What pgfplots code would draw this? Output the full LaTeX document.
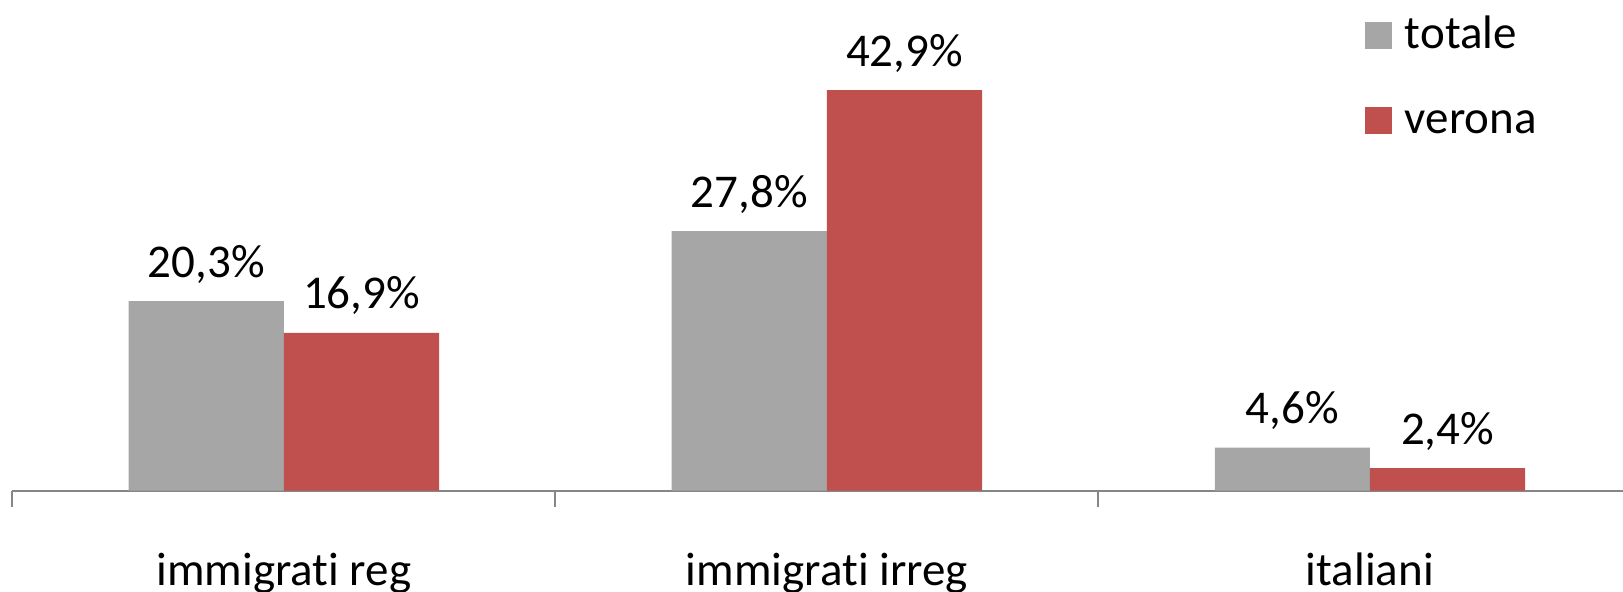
\documentclass[border=0pt]{standalone}
\usepackage{pgfplots}
\pgfplotsset{compat=1.18}
\usepackage{fontspec}
\setmainfont{Carlito}[Ligatures={NoCommon}]
\definecolor{gr}{HTML}{A6A6A6}
\definecolor{rd}{HTML}{C0504D}
\definecolor{axc}{HTML}{868686}
\begin{document}
\begin{tikzpicture}
\useasboundingbox (0,0) rectangle (811.5pt,296pt);
\begin{axis}[
  at={(6.2pt,50.7pt)}, anchor=south west,
  scale only axis, width=805.3pt, height=245.3pt,
  xmin=-0.5, xmax=2.466, ymin=0, ymax=52.55,
  ybar=0pt, bar width=77.6pt,
  axis y line=none, axis x line*=bottom,
  x axis line style={draw=axc, line width=1pt, -},
  xtick={0,1,2},
  xticklabels={immigrati reg, immigrati irreg, italiani},
  major x tick style={draw=none},
  xticklabel style={font=\fontsize{23.5}{28}\selectfont, anchor=base, yshift=-43.4pt},
  extra x ticks={-0.5,0.5,1.5},
  extra x tick labels={},
  extra x tick style={tick align=outside, major tick length=8pt,
      major x tick style={draw=axc, line width=1pt}},
  /pgf/number format/assume math mode=true,
  nodes near coords={\pgfmathprintnumber[fixed,fixed zerofill,precision=1,use comma]{\pgfplotspointmeta}\%},
  every node near coord/.append style={font=\fontsize{23.5}{28}\selectfont, anchor=base, yshift=12pt, black},
  legend style={at={(0.8398,0.97)}, anchor=north west, draw=none, fill=none,
      inner sep=0pt, outer sep=0pt, row sep=20.5pt,
      font=\fontsize{23.5}{28}\selectfont,
      nodes={inner sep=0pt, text height=17pt, text depth=5pt},
      /tikz/every odd column/.append style={column sep=6.5pt}},
  legend cell align=left,
  legend image code/.code={\fill[#1] (0pt,-6pt) rectangle (13.5pt,7.5pt);},
]
\addplot[fill=gr, draw=none] coordinates {(0,20.3) (1,27.8) (2,4.6)};
\addplot[fill=rd, draw=none] coordinates {(0,16.9) (1,42.9) (2,2.4)};
\legend{totale, verona}
\end{axis}
\end{tikzpicture}
\end{document}
